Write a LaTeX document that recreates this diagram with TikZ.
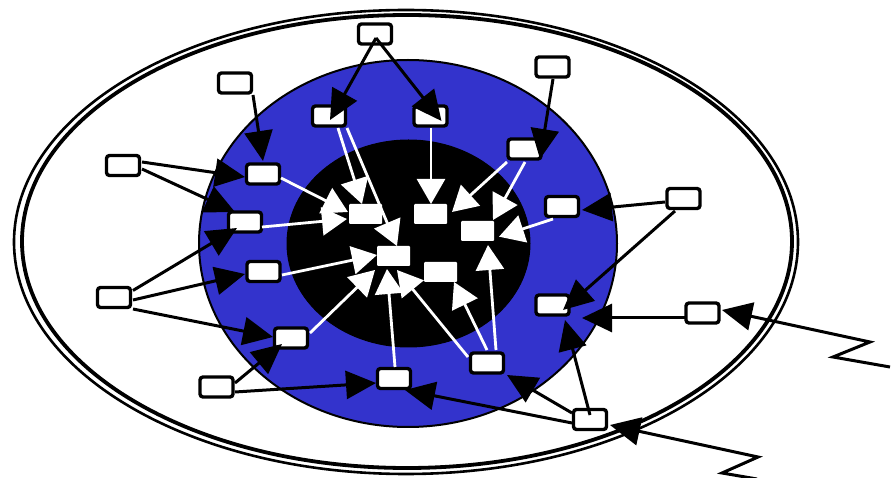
\documentclass[tikz,border=0pt]{standalone}
\usetikzlibrary{arrows.meta,calc}
\definecolor{blueC}{RGB}{51,51,204}
\begin{document}
\begin{tikzpicture}[x=1pt,y=-1pt,
 box/.style={draw=black, fill=white, line width=3.4pt, rounded corners=3pt, minimum width=33pt, minimum height=20pt, inner sep=0pt},
 wbox/.style={fill=white, rounded corners=1pt, minimum width=33pt, minimum height=20pt, inner sep=0pt},
 blk/.style={draw=black, line width=3pt, -{Triangle[length=30pt,width=28pt]}},
 wht/.style={draw=white, line width=2.8pt, -{Triangle[length=25pt,width=28pt]}}]
\useasboundingbox (0,0) rectangle (895,478);
% rings
\draw[line width=2.6pt] (406,242) ellipse [x radius=392pt, y radius=232pt];
\draw[line width=3.8pt] (407,241.5) ellipse [x radius=385pt, y radius=226.5pt];
\draw[fill=blueC, line width=2pt] (408,243.5) ellipse [x radius=209pt, y radius=183.5pt];
\draw[fill=black, line width=1pt] (408.5,243.5) ellipse [x radius=121.5pt, y radius=103.5pt];
% outer nodes
\node[box] (T)  at (375,34) {};
\node[box] (UL) at (235,83) {};
\node[box] (L1) at (123,165.5) {};
\node[box] (UR) at (552.5,67) {};
\node[box] (R1) at (683.5,198.5) {};
\node[box] (L2) at (114,297.5) {};
\node[box] (BL) at (216.5,387) {};
\node[box] (R2) at (702.5,313) {};
\node[box] (BR) at (590,419.5) {};
% blue ring nodes
\node[box] (B1) at (329,116) {};
\node[box] (B2) at (430.5,116) {};
\node[box] (B3) at (524.5,149) {};
\node[box] (B4) at (562,206.5) {};
\node[box] (B5) at (263,174) {};
\node[box] (B6) at (245,222) {};
\node[box] (B7) at (263.5,271.5) {};
\node[box] (B8) at (291,338) {};
\node[box] (B9) at (394,378.5) {};
\node[box] (B10) at (487,363) {};
\node[box] (B11) at (552.5,305) {};
% core nodes
\node[wbox] (C1) at (365.5,214) {};
\node[wbox] (C2) at (430.5,214) {};
\node[wbox] (C3) at (477.5,231) {};
\node[wbox] (C4) at (393.5,256) {};
\node[wbox] (C5) at (440.5,272) {};
% black arrows
\draw[blk] ($(T)+(1,4)$) -- ($(B1)+(1,4)$);
\draw[blk] ($(T)+(1,4)$) -- ($(B2)+(11,5)$);
\draw[blk] ($(UL)+(18,12)$) -- ($(B5)+(0,-13)$);
\draw[blk] ($(L1)+(19,-3.5)$) -- ($(B5)+(-18,3)$);
\draw[blk] ($(L1)+(19,3.5)$) -- ($(B6)+(-10,-10)$);
\draw[blk] ($(L2)+(19,-7)$) -- ($(B6)+(-8,6)$);
\draw[blk] ($(L2)+(19,2.5)$) -- ($(B7)+(-18.5,2.5)$);
\draw[blk] ($(L2)+(19,11.5)$) -- ($(B8)+(-18,-1)$);
\draw[blk] ($(BL)+(18.5,-4)$) -- ($(B8)+(-9,6)$);
\draw[blk] ($(BL)+(18.5,5)$) -- ($(B9)+(-18,4.5)$);
\draw[blk] ($(UR)+(0.5,12)$) -- ($(B3)+(15.5,10)$);
\draw[blk] ($(R1)+(-18.5,3.5)$) -- ($(B4)+(20,3.5)$);
\draw[blk] ($(R1)+(-8.5,12.5)$) -- ($(B11)+(10.5,5)$);
\draw[blk] ($(R2)+(-17.5,5)$) -- ($(B11)+(29.5,13)$);
\draw[blk] ($(BR)+(0,-4.5)$) -- ($(B11)+(12.5,15)$);
\draw[blk] ($(BR)+(-18,-6.5)$) -- ($(B10)+(20,12)$);
\draw[blk] ($(BR)+(-18,3.5)$) -- ($(B9)+(11,11.5)$);
\coordinate (Z1) at (890,367);
\draw[blk] (Z1) -- (833,357) -- (870,342) -- ($(R2)+(19.5,-3)$);
\coordinate (Z2) at (757,479);
\draw[blk] (Z2) -- (722,473) -- (758,457) -- ($(BR)+(20,5.5)$);
% white arrows
\draw[wht] ($(B1)+(9,12)$) -- ($(C1)+(-3.5,-10)$);
\draw[wht] ($(B1)+(18,12)$) -- ($(C4)+(3.5,-10)$);
\draw[wht] ($(B2)+(0.5,12)$) -- ($(C2)+(0.5,-10)$);
\draw[wht] ($(B3)+(-17.5,13)$) -- ($(C2)+(21.5,-2)$);
\draw[wht] ($(B3)+(0.5,13)$) -- ($(C3)+(15.5,-11)$);
\draw[wht] ($(B4)+(-9,12.5)$) -- ($(C3)+(21.5,5.7)$);
\draw[wht] ($(B5)+(18,4)$) -- ($(C1)+(-17.5,-2)$);
\draw[wht] ($(B6)+(17,5)$) -- ($(C1)+(-18.5,5)$);
\draw[wht] ($(B7)+(18.5,3.5)$) -- ($(C4)+(-16.5,-1)$);
\draw[wht] ($(B8)+(19,-5)$) -- ($(C4)+(-18.5,14)$);
\draw[wht] ($(B9)+(1,-11.5)$) -- ($(C4)+(-6.5,13)$);
\draw[wht] ($(B10)+(-19,-6)$) -- ($(C4)+(3.5,14)$);
\draw[wht] ($(B10)+(0,-13)$) -- ($(C5)+(13.5,10)$);
\draw[wht] ($(B10)+(9,-13)$) -- ($(C3)+(10.5,14)$);
\end{tikzpicture}
\end{document}
